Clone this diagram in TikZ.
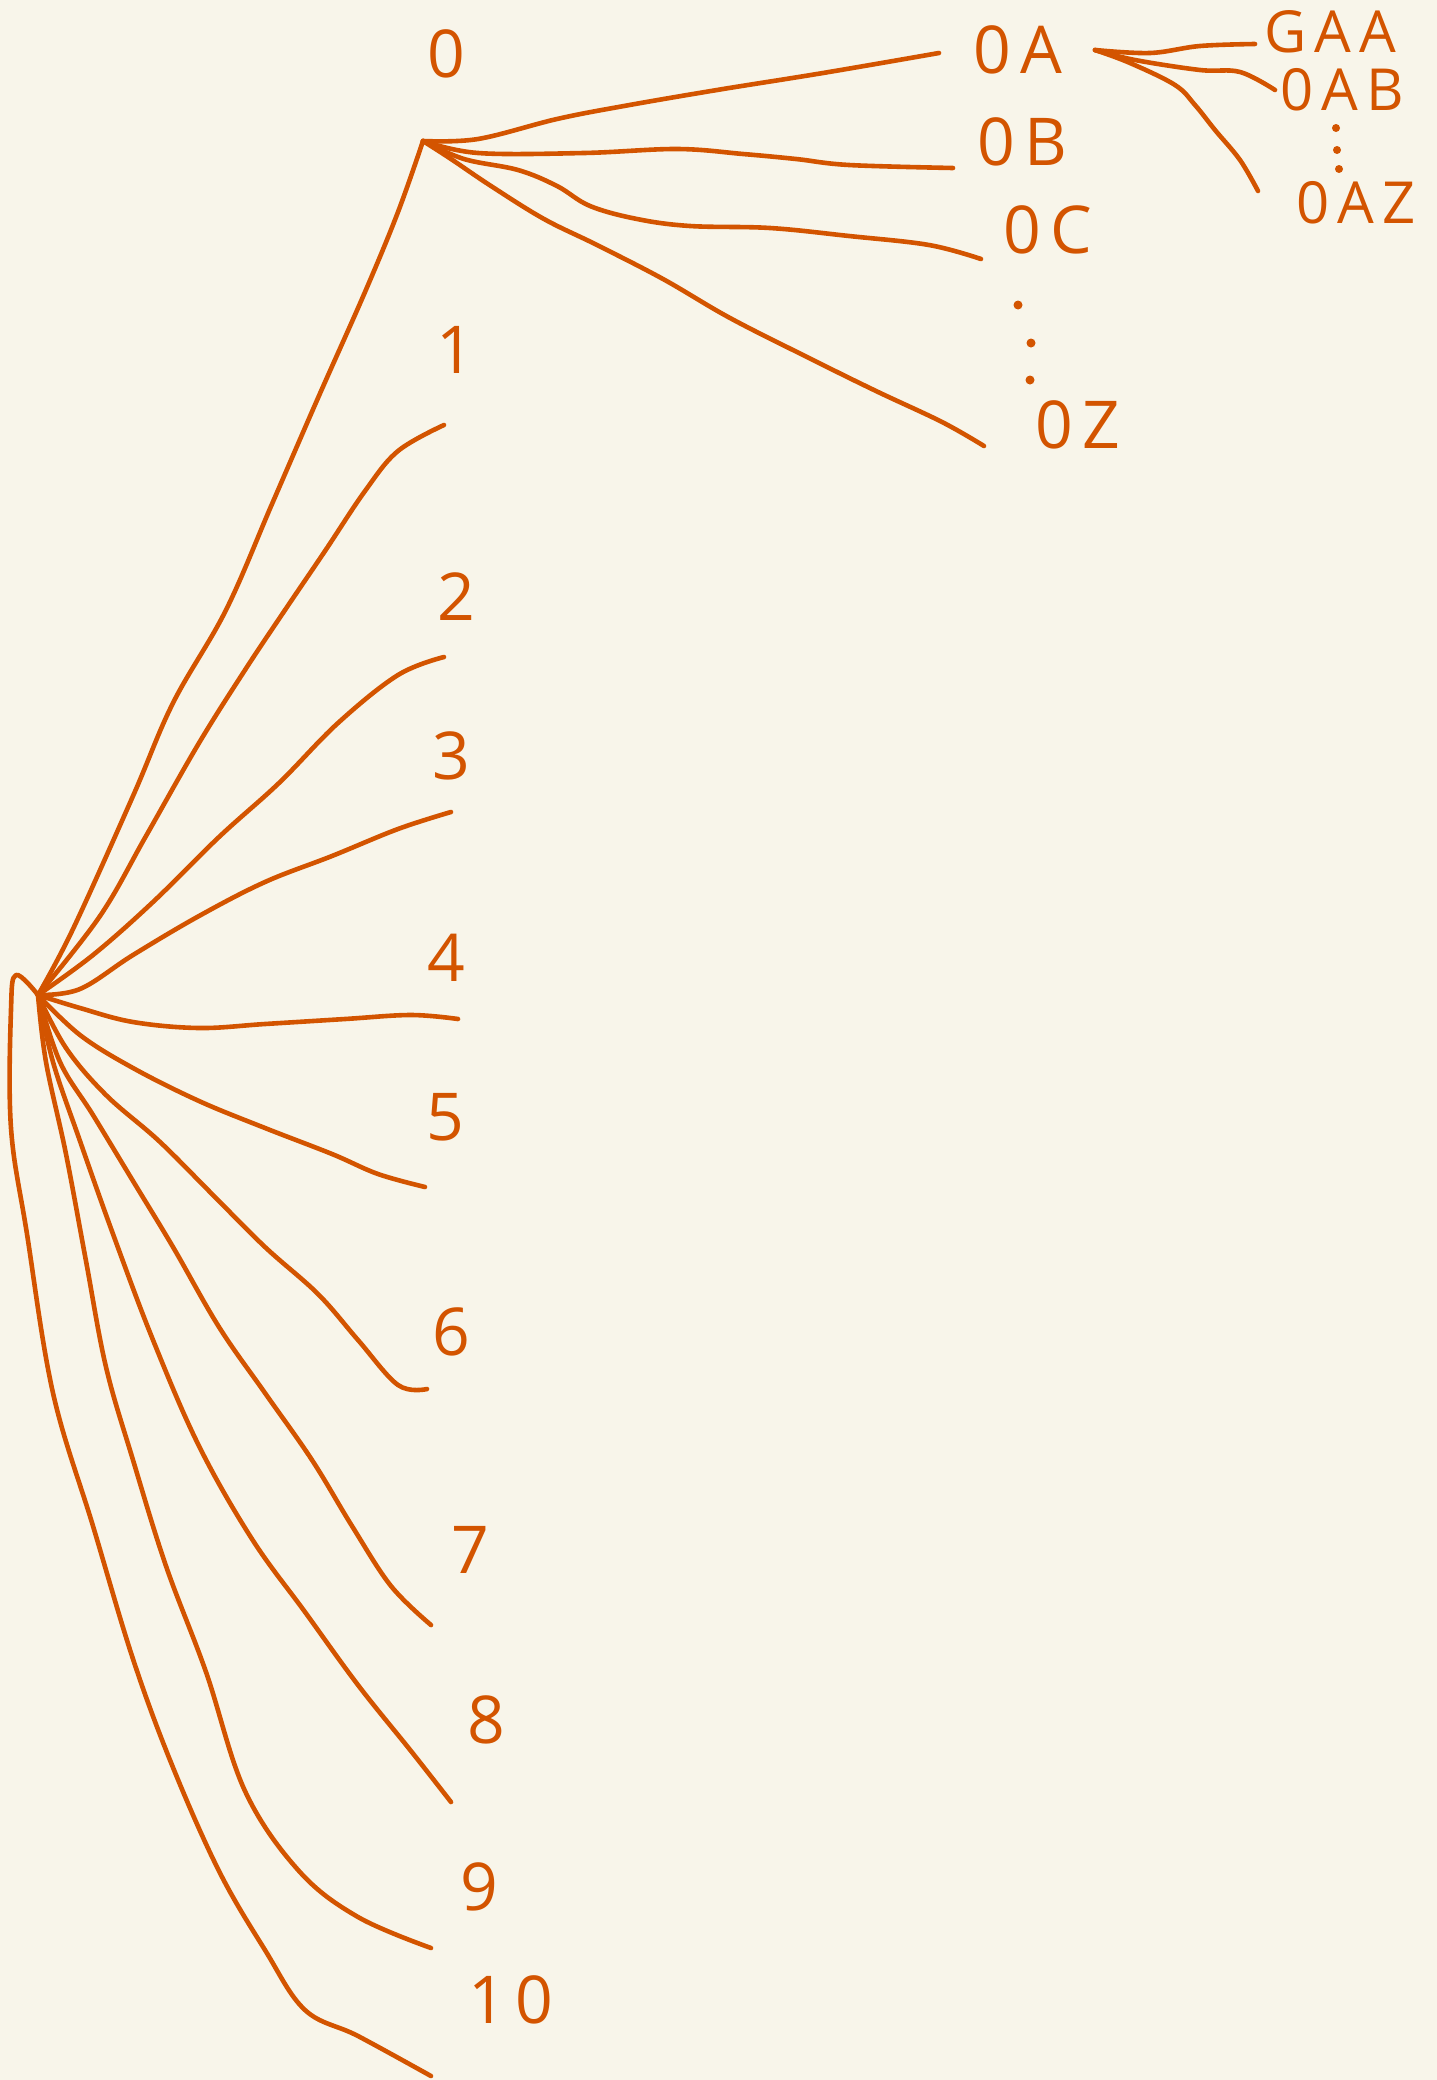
\documentclass[tikz,border=0pt]{standalone}
\usepackage{fontspec}
\setmainfont{Open Sans}[LetterSpace=14]
\usetikzlibrary{positioning}

\definecolor{paper}{RGB}{248,245,234}
\definecolor{ink}{RGB}{211,84,0}

\begin{document}
\begin{tikzpicture}[
    x=1pt, y=-1pt,
    stroke/.style={draw=ink, line width=4.6pt, line cap=round, line join=round},
    lbl/.style={text=ink, inner sep=0pt, font=\fontsize{66}{70}\selectfont},
    sublbl/.style={lbl, font=\fontsize{58}{62}\selectfont},
    pip/.style={fill=ink}
]

\fill[paper] (0,0) rectangle (1437,2080);
\useasboundingbox (0,0) rectangle (1437,2080);

\newcommand{\branch}[3]{%
    \draw[stroke] plot[smooth, tension=.6] coordinates {(#1) #2 (#3)};
}

% ============================================================
% ROOT AND FIRST LEVEL
% ============================================================

\coordinate (root) at (38,995);

\node[lbl] (n0) at (446,54) {0};
\coordinate (e0) at (423,141);

\foreach \i/\lx/\ly/\ex/\ey in {
    1/455/350/444/425,
    2/456/597/444/657,
    3/451/756/451/812,
    4/446/958/458/1019,
    5/445/1117/425/1187,
    6/451/1332/427/1389,
    7/470/1550/431/1625,
    8/486/1720/451/1802,
    9/479/1887/431/1948,
    10/511/2000/431/2076} {
    \node[lbl] (n\i) at (\lx,\ly) {\i};
    \coordinate (e\i) at (\ex,\ey);
}

\branch{root}{(73,929) (133,796) (173,703) (226,610) (272,504) (318,398) (365,292) (398,212)}{e0}
\branch{root}{(100,916) (146,836) (199,743) (245,670) (285,610) (325,551) (365,491) (398,451)}{e1}
\branch{root}{(93,955) (153,902) (219,837) (279,783) (338,723) (398,675)}{e2}
\branch{root}{(80,989) (133,955) (199,916) (265,882) (332,856) (398,829)}{e3}
\branch{root}{(80,1008) (133,1022) (199,1028) (265,1024) (345,1019) (411,1015)}{e4}
\branch{root}{(80,1035) (133,1068) (199,1101) (265,1128) (332,1154) (378,1174)}{e5}
\branch{root}{(66,1048) (106,1095) (159,1141) (212,1194) (265,1247) (318,1294) (358,1340) (398,1385)}{e6}
\branch{root}{(60,1062) (93,1115) (133,1181) (173,1247) (219,1327) (265,1393) (312,1460) (352,1526) (391,1586)}{e7}
\branch{root}{(53,1062) (80,1141) (113,1234) (153,1340) (199,1446) (252,1539) (305,1612) (358,1685) (411,1751)}{e8}
\branch{root}{(46,1062) (66,1154) (86,1261) (106,1367) (133,1460) (166,1566) (206,1672) (245,1791) (299,1871) (358,1917)}{e9}
\branch{root}{(16,975) (11,1010) (11,1128) (27,1234) (53,1393) (93,1526) (133,1659) (172,1765) (219,1871) (265,1950) (305,2010) (358,2036)}{e10}

% ============================================================
% CHILDREN OF 0
% ============================================================

\node[lbl] (n0A) at (1018,50) {0A};
\node[lbl] (n0B) at (1022,142) {0B};
\node[lbl] (n0C) at (1048,230) {0C};
\node[lbl] (n0Z) at (1078,425) {0Z};

\coordinate (e0A) at (939,53);
\coordinate (e0B) at (953,168);
\coordinate (e0C) at (981,259);
\coordinate (e0Z) at (984,446);

\branch{e0}{(478,139) (557,119) (624,106) (717,90) (823,73)}{e0A}
\branch{e0}{(478,153) (584,153) (677,149) (743,154) (796,159) (849,165)}{e0B}
\branch{e0}{(464,159) (518,170) (557,186) (590,206) (637,219) (690,226) (770,228) (849,236) (929,245)}{e0C}
\branch{e0}{(451,159) (491,186) (544,219) (597,245) (663,279) (730,318) (809,358) (876,391) (942,422)}{e0Z}

\foreach \p in {(1018,305), (1031,343), (1030,380)}
    \fill[pip] \p circle (4.5);

% ============================================================
% CHILDREN OF 0A
% ============================================================

\coordinate (jA) at (1095,50);

\node[sublbl] (nAA) at (1330,32) {GAA};
\node[sublbl] (nAB) at (1342,90) {0AB};
\node[sublbl] (nAZ) at (1356,203) {0AZ};

\coordinate (eAA) at (1255,44);
\coordinate (eAB) at (1275,90);
\coordinate (eAZ) at (1258,191);

\branch{jA}{(1150,53) (1200,46)}{eAA}
\branch{jA}{(1135,60) (1200,70) (1240,72)}{eAB}
\branch{jA}{(1130,63) (1175,85) (1195,105) (1215,130) (1240,160)}{eAZ}

\foreach \p in {(1336,128), (1337,150), (1339,169)}
    \fill[pip] \p circle (4);

\end{tikzpicture}
\end{document}
